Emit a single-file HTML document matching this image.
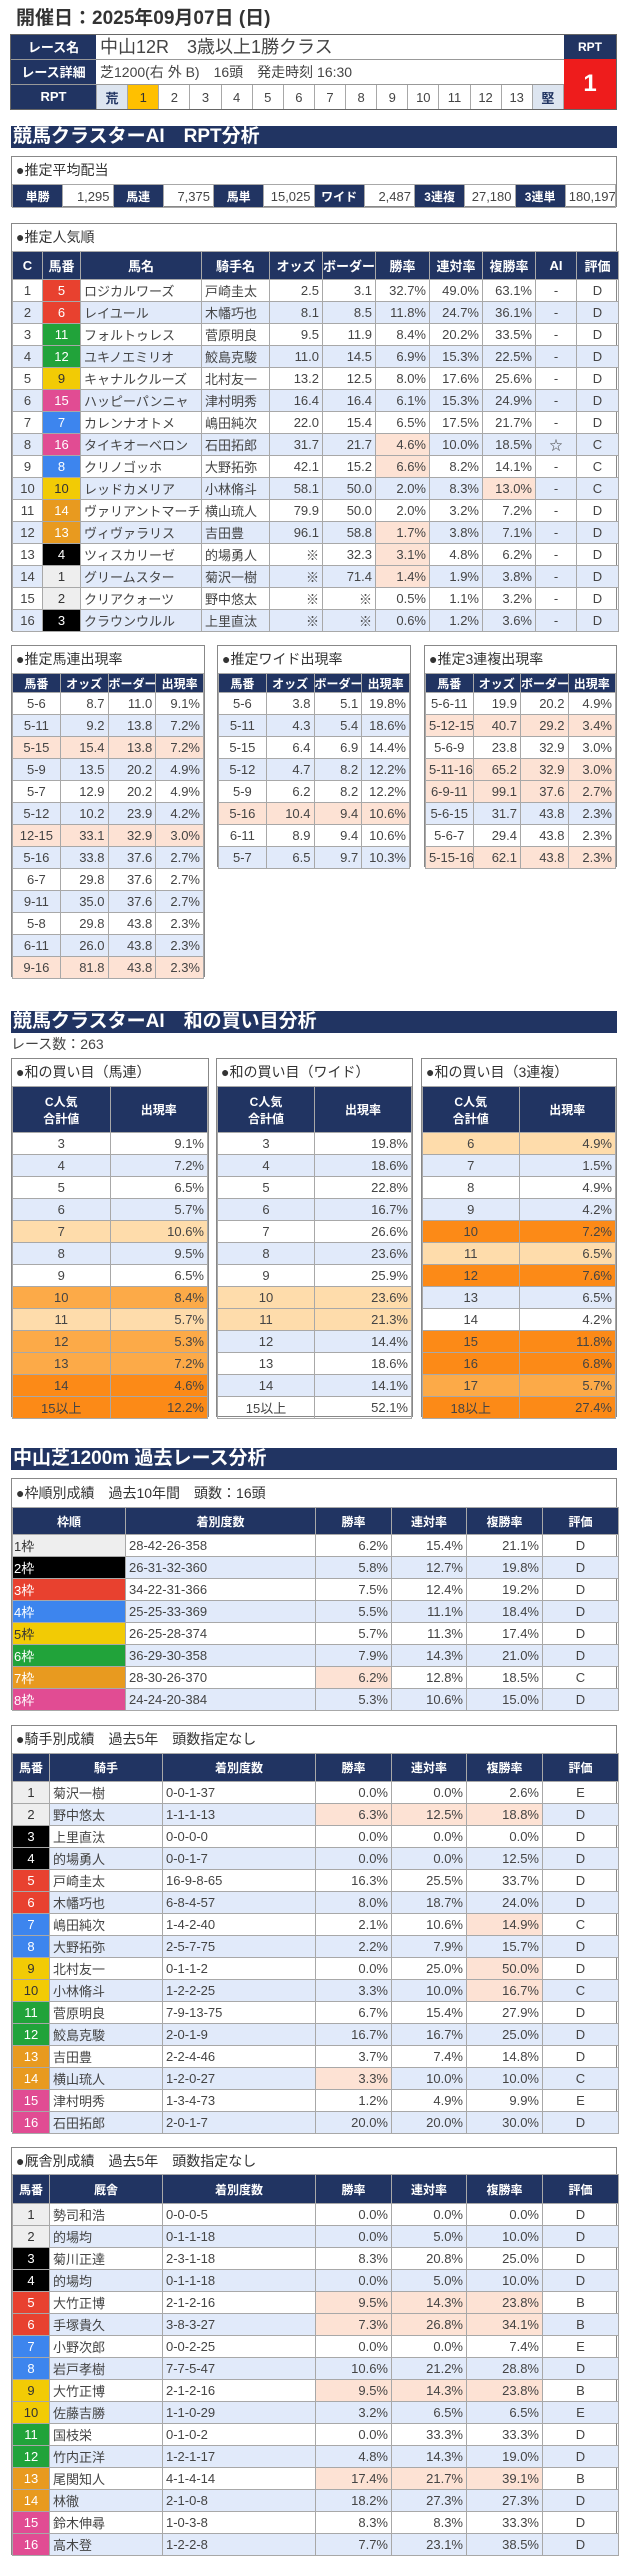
<!DOCTYPE html>
<html><head><meta charset="utf-8">
<style>
*{box-sizing:border-box}
body{margin:0;width:623px;height:2560px;position:relative;background:#fff;font-family:"Liberation Sans","Noto Sans CJK JP",sans-serif;color:#333;overflow:hidden}
.abs{position:absolute}
.box{position:absolute;border:1px solid #888;background:#fff}
.ttl{height:27px;line-height:27px;font-size:14px;padding-left:4px;color:#333;white-space:nowrap}
table{border-collapse:collapse;table-layout:fixed;width:100%}
td{border:1px solid #a8a8a8;height:22px;padding:0 3px;font-size:13px;white-space:nowrap;overflow:hidden;text-align:right;color:#444}
th{background:#213462;color:#fff;font-weight:bold;font-size:12px;border:1px solid #a8a8a8;padding:0;white-space:nowrap;overflow:hidden}
tr.b td{background:#e1eafa}
td.c{text-align:center}
td.l{text-align:left}
td.p,tr.p td{background:#fde2d4 !important}
td.o1,tr.o1 td{background:#fedcab !important}
td.o2,tr.o2 td{background:#fcaa48 !important}
td.o3,tr.o3 td{background:#fc8a17 !important}
td.f1{background:#eeeeee !important;color:#333;text-align:center}
td.f2{background:#000 !important;color:#fff;text-align:center}
td.f3{background:#e8412f !important;color:#fff;text-align:center}
td.f4{background:#3d85ee !important;color:#fff;text-align:center}
td.f5{background:#f2cb05 !important;color:#333;text-align:center}
td.f6{background:#21a33a !important;color:#fff;text-align:center}
td.f7{background:#e89a1f !important;color:#fff;text-align:center}
td.f8{background:#e14c93 !important;color:#fff;text-align:center}
.sec{position:absolute;left:11px;width:606px;height:22px;background:#213462;color:#fff;font-weight:bold;font-size:19px;line-height:22px;padding-left:2px;white-space:nowrap}
</style></head><body>

<div class="abs" style="left:16px;top:7px;font-size:19px;font-weight:bold;color:#333;line-height:24px">開催日：2025年09月07日 (日)</div>

<!-- race table -->
<div class="abs" style="left:10px;top:34px;width:607px;height:76px;border:1px solid #666">
 <div class="abs" style="left:0;top:0;width:85px;height:25px;background:#213462;color:#fff;font-weight:bold;font-size:13px;text-align:center;line-height:25px;border-bottom:1px solid #999">レース名</div>
 <div class="abs" style="left:0;top:25px;width:85px;height:25px;background:#213462;color:#fff;font-weight:bold;font-size:13px;text-align:center;line-height:25px;border-bottom:1px solid #999">レース詳細</div>
 <div class="abs" style="left:0;top:50px;width:85px;height:24px;background:#213462;color:#fff;font-weight:bold;font-size:13px;text-align:center;line-height:24px">RPT</div>
 <div class="abs" style="left:85px;top:0;width:468px;height:25px;font-size:18px;line-height:25px;padding-left:4px;border-bottom:1px solid #999;color:#444">中山12R　3歳以上1勝クラス</div>
 <div class="abs" style="left:85px;top:25px;width:468px;height:25px;font-size:14px;line-height:25px;padding-left:4px;border-bottom:1px solid #999;color:#444">芝1200(右 外 B)　16頭　発走時刻 16:30</div>
 <div class="abs" style="left:85px;top:50px;width:468px;height:24px">
  <table style="height:24px"><tr>
   <td class="c" style="background:#dde5f0;color:#213462;font-weight:bold;height:24px;border-top:0;border-bottom:0">荒</td>
   <td class="c" style="background:#ffc000;color:#333;border-top:0;border-bottom:0">1</td>
   <td class="c" style="border-top:0;border-bottom:0">2</td><td class="c" style="border-top:0;border-bottom:0">3</td><td class="c" style="border-top:0;border-bottom:0">4</td><td class="c" style="border-top:0;border-bottom:0">5</td><td class="c" style="border-top:0;border-bottom:0">6</td><td class="c" style="border-top:0;border-bottom:0">7</td><td class="c" style="border-top:0;border-bottom:0">8</td><td class="c" style="border-top:0;border-bottom:0">9</td><td class="c" style="border-top:0;border-bottom:0">10</td><td class="c" style="border-top:0;border-bottom:0">11</td><td class="c" style="border-top:0;border-bottom:0">12</td><td class="c" style="border-top:0;border-bottom:0">13</td>
   <td class="c" style="background:#dde5f0;color:#213462;font-weight:bold;border-top:0;border-bottom:0">堅</td>
  </tr></table>
 </div>
 <div class="abs" style="left:553px;top:0;width:52px;height:24px;background:#213462;color:#fff;font-weight:bold;font-size:12px;text-align:center;line-height:24px">RPT</div>
 <div class="abs" style="left:553px;top:24px;width:52px;height:50px;background:#ee1c1c;color:#fff;font-weight:bold;font-size:24px;text-align:center;line-height:50px">1</div>
</div>

<div class="sec" style="top:126px">競馬クラスターAI　RPT分析</div>

<!-- avg payout -->
<div class="box" style="left:11px;top:156px;width:606px;height:51px">
 <div class="ttl">●推定平均配当</div>
 <table><tr>
  <th style="height:23px;font-size:12px">単勝</th><td style="height:23px">1,295</td>
  <th>馬連</th><td>7,375</td>
  <th>馬単</th><td>15,025</td>
  <th>ワイド</th><td>2,487</td>
  <th>3連複</th><td>27,180</td>
  <th>3連単</th><td>180,197</td>
 </tr></table>
</div>

<!-- popularity -->
<div class="box" style="left:11px;top:223px;width:606px;height:408px">
 <div class="ttl">●推定人気順</div>
 <table>
 <colgroup><col style="width:30px"><col style="width:38px"><col style="width:121px"><col style="width:68px"><col style="width:53px"><col style="width:53px"><col style="width:54px"><col style="width:53px"><col style="width:53px"><col style="width:41px"><col style="width:42px"></colgroup>
 <tr style="height:28px"><th style="font-size:13px">C</th><th style="font-size:13px">馬番</th><th style="font-size:13px">馬名</th><th style="font-size:13px">騎手名</th><th style="font-size:13px">オッズ</th><th style="font-size:13px">ボーダー</th><th style="font-size:13px">勝率</th><th style="font-size:13px">連対率</th><th style="font-size:13px">複勝率</th><th style="font-size:13px">AI</th><th style="font-size:13px">評価</th></tr>
 <tr><td class="c">1</td><td class="f3">5</td><td class="l">ロジカルワーズ</td><td class="l">戸崎圭太</td><td>2.5</td><td>3.1</td><td>32.7%</td><td>49.0%</td><td>63.1%</td><td class="c">-</td><td class="c">D</td></tr>
 <tr class="b"><td class="c">2</td><td class="f3">6</td><td class="l">レイユール</td><td class="l">木幡巧也</td><td>8.1</td><td>8.5</td><td>11.8%</td><td>24.7%</td><td>36.1%</td><td class="c">-</td><td class="c">D</td></tr>
 <tr><td class="c">3</td><td class="f6">11</td><td class="l">フォルトゥレス</td><td class="l">菅原明良</td><td>9.5</td><td>11.9</td><td>8.4%</td><td>20.2%</td><td>33.5%</td><td class="c">-</td><td class="c">D</td></tr>
 <tr class="b"><td class="c">4</td><td class="f6">12</td><td class="l">ユキノエミリオ</td><td class="l">鮫島克駿</td><td>11.0</td><td>14.5</td><td>6.9%</td><td>15.3%</td><td>22.5%</td><td class="c">-</td><td class="c">D</td></tr>
 <tr><td class="c">5</td><td class="f5">9</td><td class="l">キャナルクルーズ</td><td class="l">北村友一</td><td>13.2</td><td>12.5</td><td>8.0%</td><td>17.6%</td><td>25.6%</td><td class="c">-</td><td class="c">D</td></tr>
 <tr class="b"><td class="c">6</td><td class="f8">15</td><td class="l">ハッピーパンニャ</td><td class="l">津村明秀</td><td>16.4</td><td>16.4</td><td>6.1%</td><td>15.3%</td><td>24.9%</td><td class="c">-</td><td class="c">D</td></tr>
 <tr><td class="c">7</td><td class="f4">7</td><td class="l">カレンナオトメ</td><td class="l">嶋田純次</td><td>22.0</td><td>15.4</td><td>6.5%</td><td>17.5%</td><td>21.7%</td><td class="c">-</td><td class="c">D</td></tr>
 <tr class="b"><td class="c">8</td><td class="f8">16</td><td class="l">タイキオーベロン</td><td class="l">石田拓郎</td><td>31.7</td><td>21.7</td><td class="p">4.6%</td><td>10.0%</td><td>18.5%</td><td class="c">☆</td><td class="c">C</td></tr>
 <tr><td class="c">9</td><td class="f4">8</td><td class="l">クリノゴッホ</td><td class="l">大野拓弥</td><td>42.1</td><td>15.2</td><td class="p">6.6%</td><td>8.2%</td><td>14.1%</td><td class="c">-</td><td class="c">C</td></tr>
 <tr class="b"><td class="c">10</td><td class="f5">10</td><td class="l">レッドカメリア</td><td class="l">小林脩斗</td><td>58.1</td><td>50.0</td><td>2.0%</td><td>8.3%</td><td class="p">13.0%</td><td class="c">-</td><td class="c">C</td></tr>
 <tr><td class="c">11</td><td class="f7">14</td><td class="l">ヴァリアントマーチ</td><td class="l">横山琉人</td><td>79.9</td><td>50.0</td><td>2.0%</td><td>3.2%</td><td>7.2%</td><td class="c">-</td><td class="c">D</td></tr>
 <tr class="b"><td class="c">12</td><td class="f7">13</td><td class="l">ヴィヴァラリス</td><td class="l">吉田豊</td><td>96.1</td><td>58.8</td><td class="p">1.7%</td><td>3.8%</td><td>7.1%</td><td class="c">-</td><td class="c">D</td></tr>
 <tr><td class="c">13</td><td class="f2">4</td><td class="l">ツィスカリーゼ</td><td class="l">的場勇人</td><td>※</td><td>32.3</td><td class="p">3.1%</td><td>4.8%</td><td>6.2%</td><td class="c">-</td><td class="c">D</td></tr>
 <tr class="b"><td class="c">14</td><td class="f1">1</td><td class="l">グリームスター</td><td class="l">菊沢一樹</td><td>※</td><td>71.4</td><td class="p">1.4%</td><td>1.9%</td><td>3.8%</td><td class="c">-</td><td class="c">D</td></tr>
 <tr><td class="c">15</td><td class="f1">2</td><td class="l">クリアクォーツ</td><td class="l">野中悠太</td><td>※</td><td>※</td><td>0.5%</td><td>1.1%</td><td>3.2%</td><td class="c">-</td><td class="c">D</td></tr>
 <tr class="b"><td class="c">16</td><td class="f2">3</td><td class="l">クラウンウルル</td><td class="l">上里直汰</td><td>※</td><td>※</td><td>0.6%</td><td>1.2%</td><td>3.6%</td><td class="c">-</td><td class="c">D</td></tr>
 </table>
</div>

<!-- small tables -->
<div class="box" style="left:11px;top:645px;width:194px;height:332px">
 <div class="ttl">●推定馬連出現率</div>
 <table>
 <tr style="height:19px"><th>馬番</th><th>オッズ</th><th>ボーダー</th><th>出現率</th></tr>
 <tr><td class="c">5-6</td><td>8.7</td><td>11.0</td><td>9.1%</td></tr>
 <tr class="b"><td class="c">5-11</td><td>9.2</td><td>13.8</td><td>7.2%</td></tr>
 <tr class="p"><td class="c">5-15</td><td>15.4</td><td>13.8</td><td>7.2%</td></tr>
 <tr class="b"><td class="c">5-9</td><td>13.5</td><td>20.2</td><td>4.9%</td></tr>
 <tr><td class="c">5-7</td><td>12.9</td><td>20.2</td><td>4.9%</td></tr>
 <tr class="b"><td class="c">5-12</td><td>10.2</td><td>23.9</td><td>4.2%</td></tr>
 <tr class="p"><td class="c">12-15</td><td>33.1</td><td>32.9</td><td>3.0%</td></tr>
 <tr class="b"><td class="c">5-16</td><td>33.8</td><td>37.6</td><td>2.7%</td></tr>
 <tr><td class="c">6-7</td><td>29.8</td><td>37.6</td><td>2.7%</td></tr>
 <tr class="b"><td class="c">9-11</td><td>35.0</td><td>37.6</td><td>2.7%</td></tr>
 <tr><td class="c">5-8</td><td>29.8</td><td>43.8</td><td>2.3%</td></tr>
 <tr class="b"><td class="c">6-11</td><td>26.0</td><td>43.8</td><td>2.3%</td></tr>
 <tr class="p"><td class="c">9-16</td><td>81.8</td><td>43.8</td><td>2.3%</td></tr>
 </table>
</div>
<div class="box" style="left:217px;top:645px;width:194px;height:222px">
 <div class="ttl">●推定ワイド出現率</div>
 <table>
 <tr style="height:19px"><th>馬番</th><th>オッズ</th><th>ボーダー</th><th>出現率</th></tr>
 <tr><td class="c">5-6</td><td>3.8</td><td>5.1</td><td>19.8%</td></tr>
 <tr class="b"><td class="c">5-11</td><td>4.3</td><td>5.4</td><td>18.6%</td></tr>
 <tr><td class="c">5-15</td><td>6.4</td><td>6.9</td><td>14.4%</td></tr>
 <tr class="b"><td class="c">5-12</td><td>4.7</td><td>8.2</td><td>12.2%</td></tr>
 <tr><td class="c">5-9</td><td>6.2</td><td>8.2</td><td>12.2%</td></tr>
 <tr class="p"><td class="c">5-16</td><td>10.4</td><td>9.4</td><td>10.6%</td></tr>
 <tr><td class="c">6-11</td><td>8.9</td><td>9.4</td><td>10.6%</td></tr>
 <tr class="b"><td class="c">5-7</td><td>6.5</td><td>9.7</td><td>10.3%</td></tr>
 </table>
</div>
<div class="box" style="left:424px;top:645px;width:193px;height:222px">
 <div class="ttl">●推定3連複出現率</div>
 <table>
 <tr style="height:19px"><th>馬番</th><th>オッズ</th><th>ボーダー</th><th>出現率</th></tr>
 <tr><td class="c">5-6-11</td><td>19.9</td><td>20.2</td><td>4.9%</td></tr>
 <tr class="p"><td class="c">5-12-15</td><td>40.7</td><td>29.2</td><td>3.4%</td></tr>
 <tr><td class="c">5-6-9</td><td>23.8</td><td>32.9</td><td>3.0%</td></tr>
 <tr class="p"><td class="c">5-11-16</td><td>65.2</td><td>32.9</td><td>3.0%</td></tr>
 <tr class="p"><td class="c">6-9-11</td><td>99.1</td><td>37.6</td><td>2.7%</td></tr>
 <tr class="b"><td class="c">5-6-15</td><td>31.7</td><td>43.8</td><td>2.3%</td></tr>
 <tr><td class="c">5-6-7</td><td>29.4</td><td>43.8</td><td>2.3%</td></tr>
 <tr class="p"><td class="c">5-15-16</td><td>62.1</td><td>43.8</td><td>2.3%</td></tr>
 </table>
</div>

<div class="sec" style="top:1011px">競馬クラスターAI　和の買い目分析</div>
<div class="abs" style="left:11px;top:1035px;font-size:14px;line-height:18px;color:#444">レース数：263</div>

<div class="box" style="left:11px;top:1058px;width:198px;height:359px">
 <div class="ttl">●和の買い目（馬連）</div>
 <table>
 <tr style="height:46px"><th>C人気<br>合計値</th><th>出現率</th></tr>
 <tr><td class="c">3</td><td>9.1%</td></tr>
 <tr class="b"><td class="c">4</td><td>7.2%</td></tr>
 <tr><td class="c">5</td><td>6.5%</td></tr>
 <tr class="b"><td class="c">6</td><td>5.7%</td></tr>
 <tr class="o1"><td class="c">7</td><td>10.6%</td></tr>
 <tr class="b"><td class="c">8</td><td>9.5%</td></tr>
 <tr><td class="c">9</td><td>6.5%</td></tr>
 <tr class="o2"><td class="c">10</td><td>8.4%</td></tr>
 <tr class="o1"><td class="c">11</td><td>5.7%</td></tr>
 <tr class="o2"><td class="c">12</td><td>5.3%</td></tr>
 <tr class="o2"><td class="c">13</td><td>7.2%</td></tr>
 <tr class="o3"><td class="c">14</td><td>4.6%</td></tr>
 <tr class="o3"><td class="c">15以上</td><td>12.2%</td></tr>
 </table>
</div>
<div class="box" style="left:216px;top:1058px;width:197px;height:359px">
 <div class="ttl">●和の買い目（ワイド）</div>
 <table>
 <tr style="height:46px"><th>C人気<br>合計値</th><th>出現率</th></tr>
 <tr><td class="c">3</td><td>19.8%</td></tr>
 <tr class="b"><td class="c">4</td><td>18.6%</td></tr>
 <tr><td class="c">5</td><td>22.8%</td></tr>
 <tr class="b"><td class="c">6</td><td>16.7%</td></tr>
 <tr><td class="c">7</td><td>26.6%</td></tr>
 <tr class="b"><td class="c">8</td><td>23.6%</td></tr>
 <tr><td class="c">9</td><td>25.9%</td></tr>
 <tr class="o1"><td class="c">10</td><td>23.6%</td></tr>
 <tr class="o1"><td class="c">11</td><td>21.3%</td></tr>
 <tr class="b"><td class="c">12</td><td>14.4%</td></tr>
 <tr><td class="c">13</td><td>18.6%</td></tr>
 <tr class="b"><td class="c">14</td><td>14.1%</td></tr>
 <tr><td class="c">15以上</td><td>52.1%</td></tr>
 </table>
</div>
<div class="box" style="left:421px;top:1058px;width:196px;height:359px">
 <div class="ttl">●和の買い目（3連複）</div>
 <table>
 <tr style="height:46px"><th>C人気<br>合計値</th><th>出現率</th></tr>
 <tr class="o1"><td class="c">6</td><td>4.9%</td></tr>
 <tr class="b"><td class="c">7</td><td>1.5%</td></tr>
 <tr><td class="c">8</td><td>4.9%</td></tr>
 <tr class="b"><td class="c">9</td><td>4.2%</td></tr>
 <tr class="o3"><td class="c">10</td><td>7.2%</td></tr>
 <tr class="o1"><td class="c">11</td><td>6.5%</td></tr>
 <tr class="o3"><td class="c">12</td><td>7.6%</td></tr>
 <tr class="b"><td class="c">13</td><td>6.5%</td></tr>
 <tr><td class="c">14</td><td>4.2%</td></tr>
 <tr class="o3"><td class="c">15</td><td>11.8%</td></tr>
 <tr class="o3"><td class="c">16</td><td>6.8%</td></tr>
 <tr class="o2"><td class="c">17</td><td>5.7%</td></tr>
 <tr class="o3"><td class="c">18以上</td><td>27.4%</td></tr>
 </table>
</div>

<div class="sec" style="top:1448px">中山芝1200m 過去レース分析</div>

<div class="box" style="left:11px;top:1478px;width:606px;height:232px">
 <div class="ttl" style="height:28px;line-height:28px">●枠順別成績　過去10年間　頭数：16頭</div>
 <table>
 <colgroup><col style="width:113px"><col style="width:190px"><col style="width:76px"><col style="width:75px"><col style="width:76px"><col style="width:76px"></colgroup>
 <tr style="height:27px"><th>枠順</th><th>着別度数</th><th>勝率</th><th>連対率</th><th>複勝率</th><th>評価</th></tr>
 <tr><td class="f1" style="text-align:left;padding-left:1px">1枠</td><td class="l">28-42-26-358</td><td>6.2%</td><td>15.4%</td><td>21.1%</td><td class="c">D</td></tr>
 <tr class="b"><td class="f2" style="text-align:left;padding-left:1px">2枠</td><td class="l">26-31-32-360</td><td>5.8%</td><td>12.7%</td><td>19.8%</td><td class="c">D</td></tr>
 <tr><td class="f3" style="text-align:left;padding-left:1px">3枠</td><td class="l">34-22-31-366</td><td>7.5%</td><td>12.4%</td><td>19.2%</td><td class="c">D</td></tr>
 <tr class="b"><td class="f4" style="text-align:left;padding-left:1px">4枠</td><td class="l">25-25-33-369</td><td>5.5%</td><td>11.1%</td><td>18.4%</td><td class="c">D</td></tr>
 <tr><td class="f5" style="text-align:left;padding-left:1px">5枠</td><td class="l">26-25-28-374</td><td>5.7%</td><td>11.3%</td><td>17.4%</td><td class="c">D</td></tr>
 <tr class="b"><td class="f6" style="text-align:left;padding-left:1px">6枠</td><td class="l">36-29-30-358</td><td>7.9%</td><td>14.3%</td><td>21.0%</td><td class="c">D</td></tr>
 <tr><td class="f7" style="text-align:left;padding-left:1px">7枠</td><td class="l">28-30-26-370</td><td class="p">6.2%</td><td>12.8%</td><td>18.5%</td><td class="c">C</td></tr>
 <tr class="b"><td class="f8" style="text-align:left;padding-left:1px">8枠</td><td class="l">24-24-20-384</td><td>5.3%</td><td>10.6%</td><td>15.0%</td><td class="c">D</td></tr>
 </table>
</div>

<div class="box" style="left:11px;top:1725px;width:606px;height:407px">
 <div class="ttl">●騎手別成績　過去5年　頭数指定なし</div>
 <table>
 <colgroup><col style="width:37px"><col style="width:113px"><col style="width:153px"><col style="width:76px"><col style="width:75px"><col style="width:76px"><col style="width:76px"></colgroup>
 <tr style="height:28px"><th>馬番</th><th>騎手</th><th>着別度数</th><th>勝率</th><th>連対率</th><th>複勝率</th><th>評価</th></tr>
 <tr><td class="f1">1</td><td class="l">菊沢一樹</td><td class="l">0-0-1-37</td><td>0.0%</td><td>0.0%</td><td>2.6%</td><td class="c">E</td></tr>
 <tr class="b"><td class="f1">2</td><td class="l">野中悠太</td><td class="l">1-1-1-13</td><td class="p">6.3%</td><td class="p">12.5%</td><td class="p">18.8%</td><td class="c">D</td></tr>
 <tr><td class="f2">3</td><td class="l">上里直汰</td><td class="l">0-0-0-0</td><td>0.0%</td><td>0.0%</td><td>0.0%</td><td class="c">D</td></tr>
 <tr class="b"><td class="f2">4</td><td class="l">的場勇人</td><td class="l">0-0-1-7</td><td>0.0%</td><td>0.0%</td><td>12.5%</td><td class="c">D</td></tr>
 <tr><td class="f3">5</td><td class="l">戸崎圭太</td><td class="l">16-9-8-65</td><td>16.3%</td><td>25.5%</td><td>33.7%</td><td class="c">D</td></tr>
 <tr class="b"><td class="f3">6</td><td class="l">木幡巧也</td><td class="l">6-8-4-57</td><td>8.0%</td><td>18.7%</td><td>24.0%</td><td class="c">D</td></tr>
 <tr><td class="f4">7</td><td class="l">嶋田純次</td><td class="l">1-4-2-40</td><td>2.1%</td><td>10.6%</td><td class="p">14.9%</td><td class="c">C</td></tr>
 <tr class="b"><td class="f4">8</td><td class="l">大野拓弥</td><td class="l">2-5-7-75</td><td>2.2%</td><td>7.9%</td><td>15.7%</td><td class="c">D</td></tr>
 <tr><td class="f5">9</td><td class="l">北村友一</td><td class="l">0-1-1-2</td><td>0.0%</td><td>25.0%</td><td class="p">50.0%</td><td class="c">D</td></tr>
 <tr class="b"><td class="f5">10</td><td class="l">小林脩斗</td><td class="l">1-2-2-25</td><td>3.3%</td><td>10.0%</td><td class="p">16.7%</td><td class="c">C</td></tr>
 <tr><td class="f6">11</td><td class="l">菅原明良</td><td class="l">7-9-13-75</td><td>6.7%</td><td>15.4%</td><td>27.9%</td><td class="c">D</td></tr>
 <tr class="b"><td class="f6">12</td><td class="l">鮫島克駿</td><td class="l">2-0-1-9</td><td>16.7%</td><td>16.7%</td><td>25.0%</td><td class="c">D</td></tr>
 <tr><td class="f7">13</td><td class="l">吉田豊</td><td class="l">2-2-4-46</td><td>3.7%</td><td>7.4%</td><td>14.8%</td><td class="c">D</td></tr>
 <tr class="b"><td class="f7">14</td><td class="l">横山琉人</td><td class="l">1-2-0-27</td><td class="p">3.3%</td><td>10.0%</td><td>10.0%</td><td class="c">C</td></tr>
 <tr><td class="f8">15</td><td class="l">津村明秀</td><td class="l">1-3-4-73</td><td>1.2%</td><td>4.9%</td><td>9.9%</td><td class="c">E</td></tr>
 <tr class="b"><td class="f8">16</td><td class="l">石田拓郎</td><td class="l">2-0-1-7</td><td>20.0%</td><td>20.0%</td><td>30.0%</td><td class="c">D</td></tr>
 </table>
</div>

<div class="box" style="left:11px;top:2147px;width:606px;height:408px">
 <div class="ttl" style="height:26px;line-height:26px">●厩舎別成績　過去5年　頭数指定なし</div>
 <table>
 <colgroup><col style="width:37px"><col style="width:113px"><col style="width:153px"><col style="width:76px"><col style="width:75px"><col style="width:76px"><col style="width:76px"></colgroup>
 <tr style="height:29px"><th>馬番</th><th>厩舎</th><th>着別度数</th><th>勝率</th><th>連対率</th><th>複勝率</th><th>評価</th></tr>
 <tr><td class="f1">1</td><td class="l">勢司和浩</td><td class="l">0-0-0-5</td><td>0.0%</td><td>0.0%</td><td>0.0%</td><td class="c">D</td></tr>
 <tr class="b"><td class="f1">2</td><td class="l">的場均</td><td class="l">0-1-1-18</td><td>0.0%</td><td>5.0%</td><td>10.0%</td><td class="c">D</td></tr>
 <tr><td class="f2">3</td><td class="l">菊川正達</td><td class="l">2-3-1-18</td><td>8.3%</td><td>20.8%</td><td>25.0%</td><td class="c">D</td></tr>
 <tr class="b"><td class="f2">4</td><td class="l">的場均</td><td class="l">0-1-1-18</td><td>0.0%</td><td>5.0%</td><td>10.0%</td><td class="c">D</td></tr>
 <tr><td class="f3">5</td><td class="l">大竹正博</td><td class="l">2-1-2-16</td><td class="p">9.5%</td><td class="p">14.3%</td><td class="p">23.8%</td><td class="c">B</td></tr>
 <tr class="b"><td class="f3">6</td><td class="l">手塚貴久</td><td class="l">3-8-3-27</td><td class="p">7.3%</td><td class="p">26.8%</td><td class="p">34.1%</td><td class="c">B</td></tr>
 <tr><td class="f4">7</td><td class="l">小野次郎</td><td class="l">0-0-2-25</td><td>0.0%</td><td>0.0%</td><td>7.4%</td><td class="c">E</td></tr>
 <tr class="b"><td class="f4">8</td><td class="l">岩戸孝樹</td><td class="l">7-7-5-47</td><td>10.6%</td><td>21.2%</td><td>28.8%</td><td class="c">D</td></tr>
 <tr><td class="f5">9</td><td class="l">大竹正博</td><td class="l">2-1-2-16</td><td class="p">9.5%</td><td class="p">14.3%</td><td class="p">23.8%</td><td class="c">B</td></tr>
 <tr class="b"><td class="f5">10</td><td class="l">佐藤吉勝</td><td class="l">1-1-0-29</td><td>3.2%</td><td>6.5%</td><td>6.5%</td><td class="c">E</td></tr>
 <tr><td class="f6">11</td><td class="l">国枝栄</td><td class="l">0-1-0-2</td><td>0.0%</td><td>33.3%</td><td>33.3%</td><td class="c">D</td></tr>
 <tr class="b"><td class="f6">12</td><td class="l">竹内正洋</td><td class="l">1-2-1-17</td><td>4.8%</td><td>14.3%</td><td>19.0%</td><td class="c">D</td></tr>
 <tr><td class="f7">13</td><td class="l">尾関知人</td><td class="l">4-1-4-14</td><td class="p">17.4%</td><td class="p">21.7%</td><td class="p">39.1%</td><td class="c">B</td></tr>
 <tr class="b"><td class="f7">14</td><td class="l">林徹</td><td class="l">2-1-0-8</td><td>18.2%</td><td>27.3%</td><td>27.3%</td><td class="c">D</td></tr>
 <tr><td class="f8">15</td><td class="l">鈴木伸尋</td><td class="l">1-0-3-8</td><td>8.3%</td><td>8.3%</td><td>33.3%</td><td class="c">D</td></tr>
 <tr class="b"><td class="f8">16</td><td class="l">高木登</td><td class="l">1-2-2-8</td><td>7.7%</td><td>23.1%</td><td>38.5%</td><td class="c">D</td></tr>
 </table>
</div>

</body></html>
